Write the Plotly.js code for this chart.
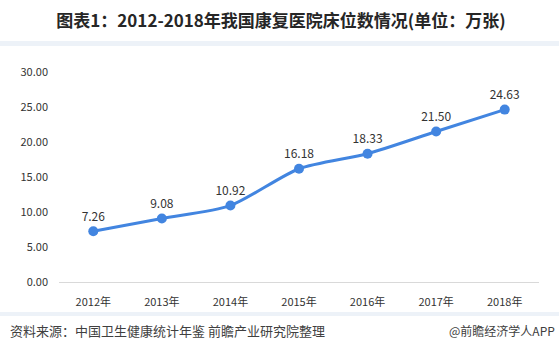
<!DOCTYPE html>
<html>
<head>
<meta charset="utf-8">
<script src="https://cdn.plot.ly/plotly-3.0.1.min.js"></script>
<style>html,body{margin:0;padding:0;background:#fff;}#chart{width:559px;height:354px;}</style>
</head>
<body>
<div id="chart"></div>
<script>
const years = ['2012年','2013年','2014年','2015年','2016年','2017年','2018年'];
const beds = [7.26, 9.08, 10.92, 16.18, 18.33, 21.50, 24.63];
const yTicks = [0, 5, 10, 15, 20, 25, 30];

const W = 559, H = 354, L = 59, R = 20, T = 72, B = 72;
const pw = W - L - R, ph = H - T - B;
const px = v => (v - L) / pw;
const py = v => (H - B - v) / ph;
const font = '"Noto Sans CJK SC", "Noto Sans", sans-serif';

const trace = {
  x: years, y: beds,
  type: 'scatter', mode: 'lines+markers+text',
  line: {color: '#4285e0', width: 3, shape: 'spline', smoothing: 0.7},
  marker: {color: '#4285e0', size: 10},
  text: beds.map(v => v.toFixed(2)),
  textposition: 'top center',
  textfont: {family: font, size: 12, color: '#333333'},
  cliponaxis: false,
  hoverinfo: 'skip'
};

const layout = {
  width: W, height: H,
  margin: {l: L, r: R, t: T, b: B},
  paper_bgcolor: '#ffffff', plot_bgcolor: '#ffffff',
  showlegend: false,
  font: {family: font, color: '#333333'},
  title: {
    text: '<b>图表1：2012-2018年我国康复医院床位数情况(单位：万张)</b>',
    font: {family: font, size: 17, color: '#262626'},
    x: 281 / W, xref: 'container', xanchor: 'center',
    y: 1 - 21 / H, yref: 'container', yanchor: 'middle'
  },
  xaxis: {
    type: 'category', range: [-0.5, 6.5],
    showgrid: false, zeroline: false,
    showline: true, linecolor: '#d9d9d9', linewidth: 1,
    ticks: '', ticklabelstandoff: 10,
    tickfont: {family: font, size: 11, color: '#333333'},
    fixedrange: true
  },
  yaxis: {
    range: [0, 30], tickvals: yTicks,
    ticktext: yTicks.map(v => v.toFixed(2)),
    showgrid: false, zeroline: false, showline: false,
    ticks: '', ticklabelstandoff: 10,
    tickfont: {family: font, size: 11, color: '#333333'},
    fixedrange: true
  },
  shapes: [
    {type: 'rect', xref: 'paper', yref: 'paper', x0: px(0), x1: px(W), y0: py(46), y1: py(41),
     fillcolor: '#edf2f8', line: {width: 0}, layer: 'below'},
    {type: 'rect', xref: 'paper', yref: 'paper', x0: px(0), x1: px(W), y0: py(316), y1: py(312),
     fillcolor: '#edf2f8', line: {width: 0}, layer: 'below'}
  ],
  annotations: [
    {text: '资料来源：中国卫生健康统计年鉴 前瞻产业研究院整理', xref: 'paper', yref: 'paper',
     x: px(8), y: py(330), xanchor: 'left', yanchor: 'middle', showarrow: false,
     font: {family: font, size: 13, color: '#404040'}},
    {text: '@前瞻经济学人APP', xref: 'paper', yref: 'paper',
     x: px(557), y: py(330), xanchor: 'right', yanchor: 'middle', showarrow: false,
     font: {family: font, size: 12, color: '#404040'}}
  ]
};

Plotly.newPlot('chart', [trace], layout, {displayModeBar: false, staticPlot: true});
</script>
</body>
</html>
